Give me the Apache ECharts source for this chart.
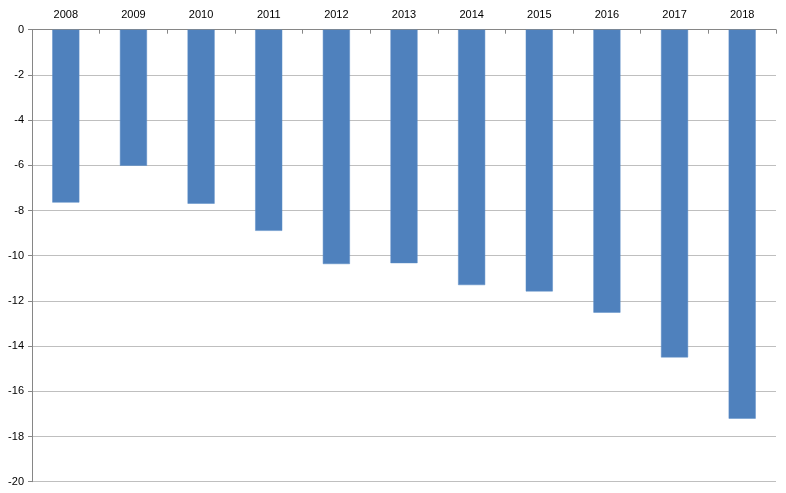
<!DOCTYPE html>
<html>
<head>
<meta charset="utf-8">
<script src="https://cdn.jsdelivr.net/npm/echarts@6/dist/echarts.min.js"></script>
<style>html,body{margin:0;padding:0;background:#fff;}#c{width:786px;height:493px;}</style>
</head>
<body>
<div id="c"></div>
<script>
var categories = ['2008','2009','2010','2011','2012','2013','2014','2015','2016','2017','2018'];
var values = [-7.65, -6.02, -7.7, -8.9, -10.37, -10.33, -11.3, -11.58, -12.52, -14.5, -17.21];
var chart = echarts.init(document.getElementById('c'), null, {renderer:'canvas'});
chart.setOption({
  animation: false,
  backgroundColor: '#ffffff',
  grid: {left: 32, right: 10, top: 29.7, bottom: 11.3, containLabel: false},
  xAxis: {
    type: 'category', position: 'top', data: categories,
    boundaryGap: true,
    axisLine: {show: true, lineStyle: {color: '#868686', width: 1}},
    axisTick: {show: true, inside: true, length: 4, alignWithLabel: false, lineStyle: {color: '#868686'}},
    axisLabel: {color: '#000', fontSize: 11, fontFamily: 'Liberation Sans, Arial, sans-serif', margin: 9},
    splitLine: {show: false}
  },
  yAxis: {
    type: 'value', min: -20, max: 0, interval: 2,
    axisLine: {show: true, lineStyle: {color: '#868686', width: 1}},
    axisTick: {show: true, length: 4, lineStyle: {color: '#868686'}},
    axisLabel: {color: '#000', fontSize: 11, fontFamily: 'Liberation Sans, Arial, sans-serif', margin: 8},
    splitLine: {show: true, lineStyle: {color: '#BFBFBF', width: 1}}
  },
  series: [{
    type: 'bar', data: values, barWidth: '40%',
    itemStyle: {color: '#4F81BD', borderColor: '#5B8CC6', borderWidth: 0.5}
  }]
});
</script>
</body>
</html>
